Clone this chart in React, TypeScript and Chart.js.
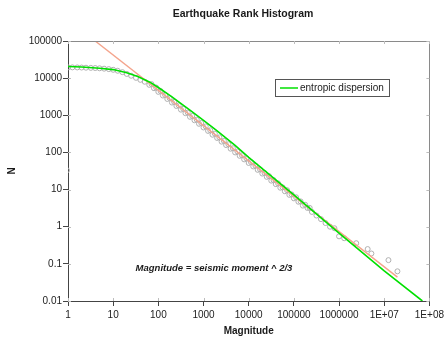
import React, { useEffect, useRef } from "react";
import { Chart, registerables } from "chart.js";

Chart.register(...registerables);

const FONT = "Arial, 'Liberation Sans', sans-serif";

const xTickValues = [1, 10, 100, 1000, 10000, 100000, 1000000, 1e7, 1e8];
const xTickLabels = ["1", "10", "100", "1000", "10000", "100000", "1000000", "1E+07", "1E+08"];
const yTickValues = [0.01, 0.1, 1, 10, 100, 1000, 10000, 100000];
const yTickLabels = ["0.01", "0.1", "1", "10", "100", "1000", "10000", "100000"];

// observed rank histogram (gray circles)
const rankX = [
  0.95, 1, 1.25, 1.6, 2, 2.5, 3.2, 4, 5, 6.3, 8, 10, 12.6, 16, 20, 25, 32, 40,
  50, 63, 80, 100, 126, 158, 200, 251, 316, 398, 501, 631, 794,
  1000, 1260, 1580, 2000, 2510, 3160, 3980, 5010, 6310, 7940,
  10000, 12600, 15800, 20000, 25100, 31600, 39800, 50100, 63100, 79400,
  100000, 126000, 158000, 200000, 224000, 251000, 316000, 398000, 501000, 631000,
  790000, 1000000, 1300000, 2400000, 4300000, 5200000, 12400000, 19600000,
];
const rankN = [
  33, 19500, 19500, 19400, 19300, 19100, 18900, 18700, 18400, 18000, 17500, 16800, 15800, 14500, 13000, 11600, 10200, 9000,
  8000, 6600, 5350, 4270, 3400, 2750, 2200, 1780, 1420, 1140, 910, 735, 590,
  470, 380, 300, 245, 195, 158, 126, 100, 81, 65,
  52, 42, 34, 27, 22, 17.4, 14, 11.2, 9, 7.2,
  5.8, 4.7, 3.7, 3.2, 3.2, 2.5, 2.0, 1.6, 1.26, 1.0,
  0.91, 0.55, 0.49, 0.36, 0.25, 0.19, 0.126, 0.063,
];
// more circles of the same band (upper edge)
const rankX2 = [
  70.8, 89.1, 112, 141, 178, 224, 282, 355, 447, 562, 708, 891,
  1120, 1410, 1780, 2240, 2820, 3550, 4470, 5620, 7080, 8910,
  11200, 14100, 17800, 22400, 28200, 35500, 44700, 56200, 70800, 89100,
  112000, 141000, 178000,
];
const rankN2 = [
  6900, 5600, 4500, 3550, 2900, 2300, 1850, 1500, 1180, 960, 760, 620,
  500, 395, 320, 255, 205, 166, 130, 106, 84, 69,
  55, 44, 35, 28, 23, 18, 14.7, 11.5, 9.6, 7.4,
  6.2, 4.8, 3.9,
];

// entropic dispersion curve (green)
const dispersionX = [1, 2, 5, 10, 20, 35, 65, 100, 200, 500, 1000, 2000, 5000, 10000, 100000, 1000000, 10000000, 70000000];
const dispersionN = [20500, 20000, 18500, 17000, 14000, 11000, 7800, 5600, 3150, 1370, 730, 380, 155, 74, 7.2, 0.67, 0.065, 0.01];

// power law fit (salmon)
const powerLawX = [4, 19600000];
const powerLawN = [100000, 0.044];

const decorPlugin = {
  id: "decor",
  afterDraw(chart: any) {
    const ctx = chart.ctx as CanvasRenderingContext2D;
    const ca = chart.chartArea;
    const xs = chart.scales.x;
    const ys = chart.scales.y;
    ctx.save();
    // top & right frame
    ctx.strokeStyle = "#8a8a8a";
    ctx.lineWidth = 1;
    ctx.beginPath();
    ctx.moveTo(ca.left, Math.round(ca.top) + 0.5);
    ctx.lineTo(Math.round(ca.right) + 0.5, Math.round(ca.top) + 0.5);
    ctx.lineTo(Math.round(ca.right) + 0.5, ca.bottom);
    ctx.stroke();
    // light inner ticks
    ctx.strokeStyle = "#bdbdbd";
    ctx.beginPath();
    xTickValues.forEach((v) => {
      const px = Math.round(xs.getPixelForValue(v)) + 0.5;
      ctx.moveTo(px, ca.top);
      ctx.lineTo(px, ca.top + 3);
      ctx.moveTo(px, ca.bottom);
      ctx.lineTo(px, ca.bottom - 3);
    });
    yTickValues.forEach((v) => {
      const py = Math.round(ys.getPixelForValue(v)) + 0.5;
      ctx.moveTo(ca.left, py);
      ctx.lineTo(ca.left + 3, py);
      ctx.moveTo(ca.right, py);
      ctx.lineTo(ca.right - 3, py);
    });
    ctx.stroke();

    // texts
    ctx.fillStyle = "#1a1a1a";
    ctx.textAlign = "center";
    ctx.textBaseline = "middle";
    ctx.font = `bold 10.5px ${FONT}`;
    ctx.fillText("Earthquake Rank Histogram", 243, 14);
    ctx.font = `bold 10px ${FONT}`;
    ctx.fillText("Magnitude", (ca.left + ca.right) / 2, 331);
    ctx.save();
    ctx.translate(12, (ca.top + ca.bottom) / 2);
    ctx.rotate(-Math.PI / 2);
    ctx.fillText("N", 0, 0);
    ctx.restore();
    ctx.font = `italic bold 9.5px ${FONT}`;
    ctx.fillText("Magnitude = seismic moment ^ 2/3", 214, 268);

    // legend
    ctx.fillStyle = "#ffffff";
    ctx.fillRect(275.5, 79.5, 114, 17);
    ctx.strokeStyle = "#555555";
    ctx.strokeRect(275.5, 79.5, 114, 17);
    ctx.strokeStyle = "#00e000";
    ctx.lineWidth = 1.5;
    ctx.beginPath();
    ctx.moveTo(280, 88);
    ctx.lineTo(298, 88);
    ctx.stroke();
    ctx.fillStyle = "#222";
    ctx.textAlign = "left";
    ctx.font = `10px ${FONT}`;
    ctx.fillText("entropic dispersion", 300, 88.5);
    ctx.restore();
  },
};

export default function App() {
  const ref = useRef<HTMLCanvasElement | null>(null);
  useEffect(() => {
    if (!ref.current) return;
    const circles = rankX
      .map((x, i) => ({ x, y: rankN[i] }))
      .concat(rankX2.map((x, i) => ({ x, y: rankN2[i] })));
    const chart = new Chart(ref.current, {
      type: "scatter",
      data: {
        datasets: [
          {
            label: "entropic dispersion",
            data: dispersionX.map((x, i) => ({ x, y: dispersionN[i] })),
            showLine: true,
            borderColor: "#00e000",
            borderWidth: 1.6,
            pointRadius: 0,
            order: 0,
          },
          {
            label: "power law",
            data: powerLawX.map((x, i) => ({ x, y: powerLawN[i] })),
            showLine: true,
            borderColor: "#f4a48c",
            borderWidth: 1.4,
            pointRadius: 0,
            order: 1,
          },
          {
            label: "data",
            data: circles,
            showLine: false,
            pointRadius: 2.5,
            pointBorderWidth: 1,
            pointBorderColor: "#b0b0b0",
            pointBackgroundColor: "rgba(0,0,0,0)",
            order: 2,
          },
        ],
      },
      options: {
        animation: false,
        responsive: true,
        maintainAspectRatio: false,
        layout: { padding: { top: 41, left: 0, right: 17, bottom: 0 } },
        plugins: { legend: { display: false }, title: { display: false }, tooltip: { enabled: false } },
        scales: {
          x: {
            type: "logarithmic",
            min: 1,
            max: 1e8,
            afterBuildTicks: (s: any) => {
              s.ticks = xTickValues.map((v) => ({ value: v }));
            },
            afterFit: (s: any) => {
              s.height = 38;
            },
            ticks: {
              autoSkip: false,
              maxRotation: 0,
              minRotation: 0,
              padding: 3,
              color: "#222",
              font: { family: FONT, size: 10 },
              callback: (v: any) => xTickLabels[xTickValues.indexOf(Number(v))] ?? "",
            },
            grid: { drawOnChartArea: false, drawTicks: true, tickLength: 5, color: "#444" },
            border: { display: true, color: "#444", width: 1 },
          },
          y: {
            type: "logarithmic",
            min: 0.01,
            max: 100000,
            afterBuildTicks: (s: any) => {
              s.ticks = yTickValues.map((v) => ({ value: v }));
            },
            afterFit: (s: any) => {
              s.width = 68;
            },
            ticks: {
              autoSkip: false,
              padding: 1,
              color: "#222",
              font: { family: FONT, size: 10 },
              callback: (v: any) => yTickLabels[yTickValues.indexOf(Number(v))] ?? "",
            },
            grid: { drawOnChartArea: false, drawTicks: true, tickLength: 5, color: "#444" },
            border: { display: true, color: "#444", width: 1 },
          },
        },
      },
      plugins: [decorPlugin],
    } as any);
    return () => chart.destroy();
  }, []);
  return (
    <div style={{ position: "fixed", left: 0, top: 0, width: 447, height: 339, background: "#fff" }}>
      <canvas ref={ref} />
    </div>
  );
}
